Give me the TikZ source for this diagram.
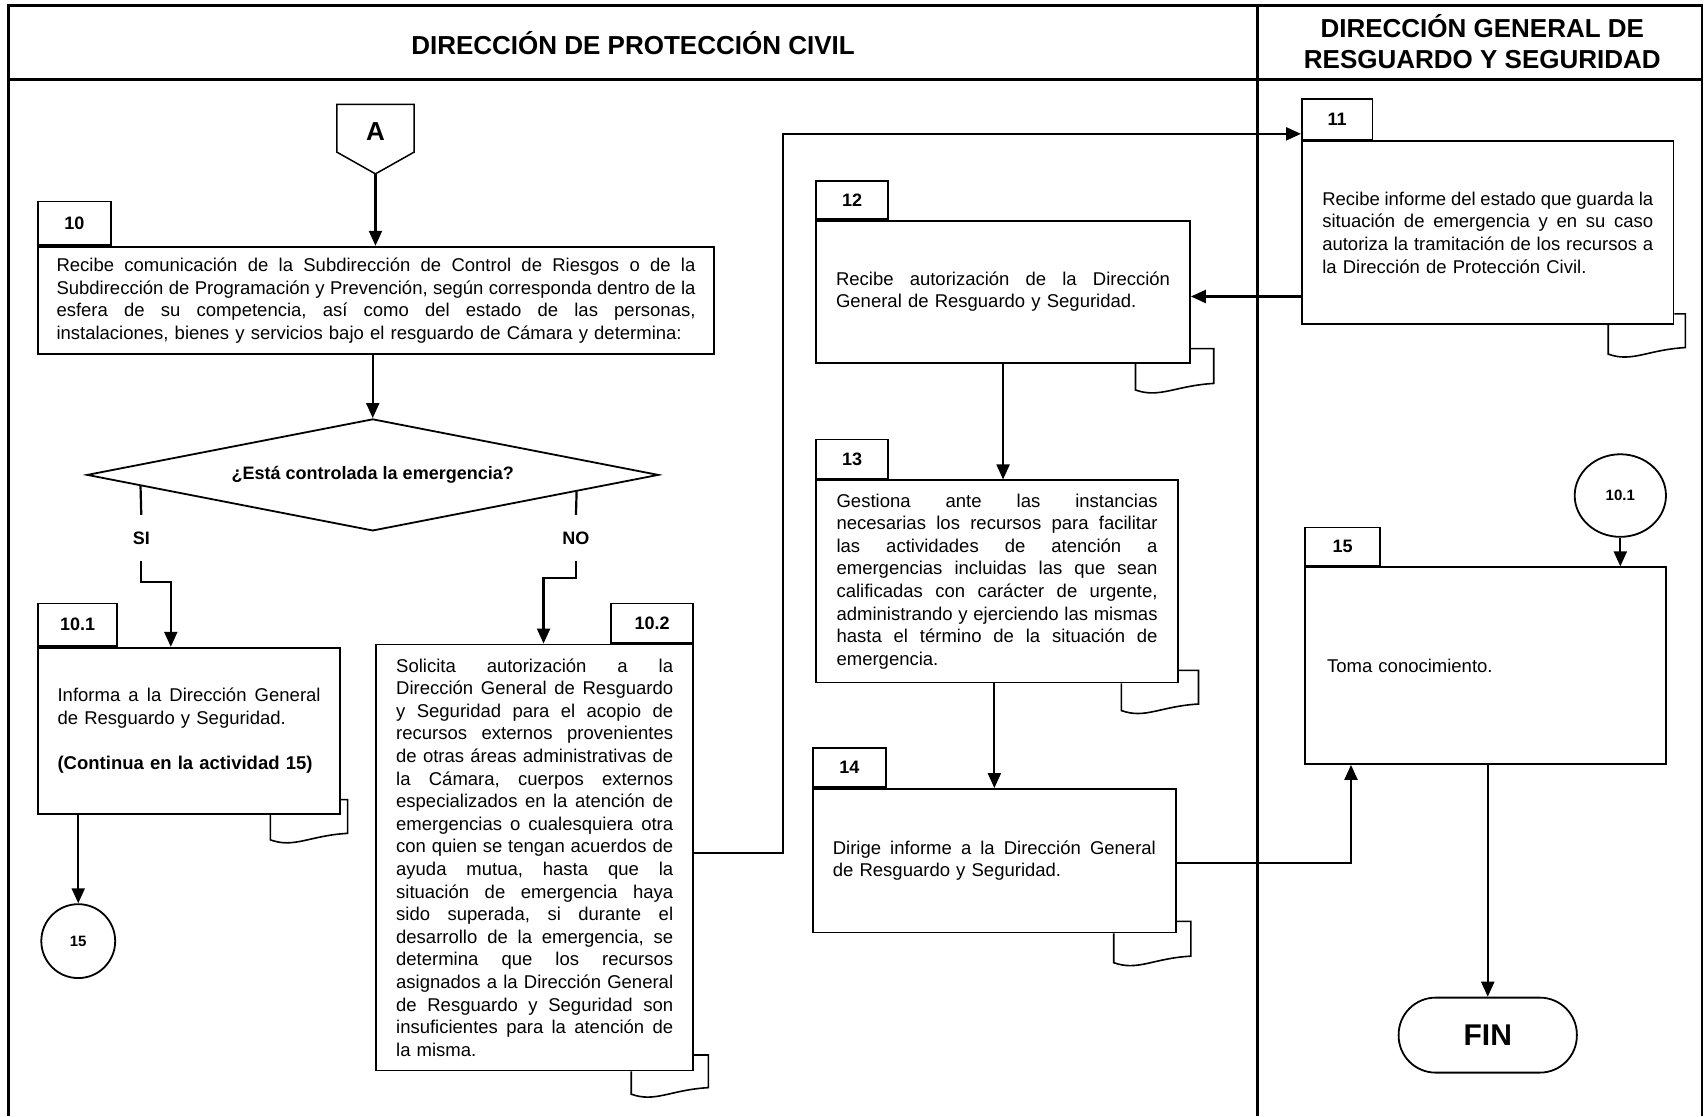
\documentclass[tikz,border=0pt]{standalone}
\usepackage{fontspec}
\setmainfont{Liberation Sans}
\usetikzlibrary{calc,arrows.meta,shapes.geometric}

\newcommand{\bodyfont}{\fontsize{18.5}{22.6}\selectfont}
\newlength{\jw}
% one fully justified line of a paragraph, as wide as the text block of its box
\newcommand{\jl}[1]{\hbox to \jw{\frenchspacing\spaceskip=.278em plus 1em minus .08em\relax #1}}
% paper fold under the lower right corner of a document box
% #1 node, #2 reach to the left, #3 reach to the right, #4 rise above the bottom, #5 drop below it
\newcommand{\fold}[5]{%
  \draw[foldline] ($(#1.south east)+(-#2,0)$) -- ++(0,{#5+6})
    .. controls +(22,8) and +(-35,2) .. ($(#1.south east)+(#3,#5)$)
    -- ($(#1.south east)+(#3,-#4)$) -- ($(#1.south east)+(0,-#4)$);
}

\tikzset{
  sz/.style 2 args={minimum width=#1*1.0867pt, minimum height=#2*1.0867pt},
  tw/.style={text width=#1, execute at begin node={\setlength{\jw}{#1}}},
  ln/.style={line width=2.2pt},
  arr/.style={line width=2.2pt, -{Triangle[length=15pt,width=13pt]}},
  frameline/.style={line width=2.4pt},
  foldline/.style={line width=1.6pt},
  box/.style={draw, line width=1.8pt, fill=white, inner sep=0pt, font=\bodyfont},
  tab/.style={draw, line width=1.8pt, fill=white, inner sep=0pt,
    font=\bfseries\fontsize{18}{20}\selectfont},
  lbl/.style={inner sep=0pt, font=\bfseries\fontsize{18}{20}\selectfont},
  hdr/.style={inner sep=0pt, align=center, font=\bfseries\fontsize{26}{31.5}\selectfont},
  conn/.style={draw, line width=1.8pt, inner sep=0pt, font=\bfseries\fontsize{15}{17}\selectfont},
}

\begin{document}
\begin{tikzpicture}[x=1.0867pt, y=-1.0867pt]
\useasboundingbox (0,0) rectangle (1568,1027);

% swimlane frame
\draw[frameline] (8,1027) -- (8,5) -- (1566,5) -- (1566,1027);
\draw[frameline] (8,73) -- (1566,73);
\draw[frameline] (1157,5) -- (1157,1027);
\node[hdr] (h1) at (582.5,40) {DIRECCIÓN DE PROTECCIÓN CIVIL};
\node[hdr] (h2) at (1364,38.5) {DIRECCIÓN GENERAL DE\\RESGUARDO Y SEGURIDAD};

% off-page connector A
\node[sz={71}{50}, inner sep=0pt, outer sep=0pt, font=\bfseries\fontsize{26}{28}\selectfont] (A) at (345.5,121) {A};
\coordinate (Atip) at ($(A.south)+(0,14)$);
\draw[line width=1.5pt] (A.north west) -- (A.north east) -- ($(A.south east)+(0,-6)$)
  -- (Atip) -- ($(A.south west)+(0,-6)$) -- cycle;

% activity 10
\node[box, sz={622}{99}, tw=639pt] (b10) at (346,276.5) {%
\jl{Recibe comunicación de la Subdirección de Control de Riesgos o de la}
\jl{Subdirección de Programación y Prevención, según corresponda dentro de la}
\jl{esfera de su competencia, así como del estado de las personas,}
instalaciones, bienes y servicios bajo el resguardo de Cámara y determina:};
\node[tab, sz={67}{40}, anchor=south west] (t10) at (b10.north west) {10};

% decision
\node[draw, diamond, aspect=5, line width=1.8pt, inner sep=0pt, sz={526}{103},
  font=\bfseries\fontsize{18}{20}\selectfont] (dec) at (343,437) {¿Está controlada la emergencia?};
\node[lbl, sz={30}{42}] (si) at (130,495) {SI};
\node[lbl, sz={30}{42}] (no) at (530,495) {NO};

% activity 10.1
\node[box, sz={278}{153}, tw=263pt] (b101) at (174,672.5) {%
\jl{Informa a la Dirección General}
de Resguardo y Seguridad.\par
\mbox{}\par
\textbf{(Continua en la actividad 15)}};
\node[tab, sz={73}{39}, anchor=south west] (t101) at (b101.north west) {10.1};
\fold{b101}{65}{6}{14}{17}
\node[conn, circle, sz={68}{68}] (c15) at (72,866) {15};

% activity 10.2
\node[box, sz={292}{392}, tw=277pt] (b102) at (492,789) {%
\jl{Solicita autorización a la}
\jl{Dirección General de Resguardo}
\jl{y Seguridad para el acopio de}
\jl{recursos externos provenientes}
\jl{de otras áreas administrativas de}
\jl{la Cámara, cuerpos externos}
\jl{especializados en la atención de}
\jl{emergencias o cualesquiera otra}
\jl{con quien se tengan acuerdos de}
\jl{ayuda mutua, hasta que la}
\jl{situación de emergencia haya}
\jl{sido superada, si durante el}
\jl{desarrollo de la emergencia, se}
\jl{determina que los recursos}
\jl{asignados a la Dirección General}
\jl{de Resguardo y Seguridad son}
\jl{insuficientes para la atención de}
la misma.};
\node[tab, sz={76}{36}, anchor=south east] (t102) at (b102.north east) {10.2};
\fold{b102}{58}{13}{15}{15}

% activity 11
\node[box, sz={342}{168}, tw=331pt] (b11) at (1369,214) {%
\jl{Recibe informe del estado que guarda la}
\jl{situación de emergencia y en su caso}
\jl{autoriza la tramitación de los recursos a}
la Dirección de Protección Civil.};
\node[tab, sz={65}{37}, anchor=south west] (t11) at (b11.north west) {11};
\fold{b11}{61}{10}{10}{21}

% activity 12
\node[box, sz={344}{131}, tw=334pt] (b12) at (923,268.5) {%
\jl{Recibe autorización de la Dirección}
General de Resguardo y Seguridad.};
\node[tab, sz={66}{35}, anchor=south west] (t12) at (b12.north west) {12};
\fold{b12}{51}{21}{14}{18}

% activity 13
\node[box, sz={333}{186}, tw=321pt] (b13) at (917.5,535) {%
\jl{Gestiona ante las instancias}
\jl{necesarias los recursos para facilitar}
\jl{las actividades de atención a}
\jl{emergencias incluidas las que sean}
\jl{calificadas con carácter de urgente,}
\jl{administrando y ejerciendo las mismas}
\jl{hasta el término de la situación de}
emergencia.};
\node[tab, sz={66}{36}, anchor=south west] (t13) at (b13.north west) {13};
\fold{b13}{53}{18}{12}{19}

% activity 14
\node[box, sz={334}{132}, tw=323pt] (b14) at (915,792) {%
\jl{Dirige informe a la Dirección General}
de Resguardo y Seguridad.};
\node[tab, sz={67}{36}, anchor=south west] (t14) at (b14.north west) {14};
\fold{b14}{58}{13}{11}{21}

% activity 15
\node[box, sz={332}{181}, text width=317pt] (b15) at (1367,612.5) {Toma conocimiento.};
\node[tab, sz={69}{35}, anchor=south west] (t15) at (b15.north west) {15};
\node[conn, ellipse, sz={84}{76}] (c101) at (1491,456) {10.1};

% end
\node[draw, line width=1.8pt, rounded corners=37pt, sz={164}{69},
  font=\bfseries\fontsize{30}{32}\selectfont] (fin) at (1369,952.5) {FIN};

% connectors
\draw[arr] (Atip) -- (Atip |- b10.north);
\draw[arr] (dec.north |- b10.south) -- (dec.north);
\draw[ln] ($(dec.west)!0.19!(dec.south)$) -- (si.north);
\draw[arr] (si.south) -- ++(0,19) -| ($(b101.north west)+(123,0)$);
\draw[ln] ($(dec.east)!0.289!(dec.south)$) -- (no.north);
\draw[arr] (no.south) -- ++(0,16) -| ($(b102.north west)+(155,0)$);
\draw[arr] (c15.north |- b101.south) -- (c15.north);
\coordinate (c102) at ($(b102.east)+(0,-4)$);
\draw[arr] (c102) -- ++(82,0) |- ($(t11.south west)+(0,-6)$);
\coordinate (c11) at ($(b11.south west)+(0,-26)$);
\draw[arr] (c11) -- (c11 -| b12.east);
\draw[arr] (b12.south) -- (b12.south |- b13.north);
\draw[arr] (b14.north |- b13.south) -- (b14.north);
\draw[arr] ($(b14.east)+(0,2)$) -| ($(b15.south west)+(43,0)$);
\draw[arr] (c101.south) -- (c101.south |- b15.north);
\draw[arr] (fin.north |- b15.south) -- (fin.north);
\end{tikzpicture}
\end{document}
